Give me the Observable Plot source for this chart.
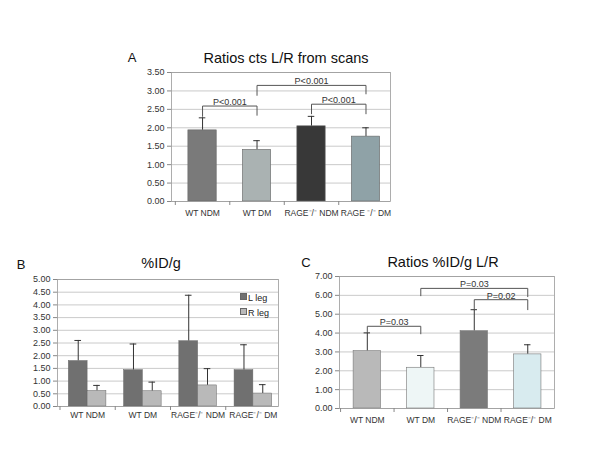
<!DOCTYPE html>
<html><head><meta charset="utf-8">
<script src="https://cdn.jsdelivr.net/npm/d3@7"></script>
<script src="https://cdn.jsdelivr.net/npm/@observablehq/plot@0.6"></script>
<style>
body{margin:0;background:#fff;font-family:"Liberation Sans",Arial,sans-serif;}
#wrap{position:relative;width:600px;height:450px;overflow:hidden;background:#fff;}
.pan{position:absolute;}
.lbl{position:absolute;transform:translate(-50%,-50%);white-space:nowrap;color:#111;line-height:1;}
.leg{position:absolute;font-size:9px;color:#222;line-height:1;white-space:nowrap;}
.leg span{display:inline-block;width:5px;height:5px;margin-right:1px;vertical-align:1px;border:0.5px solid #666;}
</style></head><body><div id="wrap"></div>
<script>
// ---- data ----
const categories = ["WT NDM", "WT DM", "RAGE\u207B/\u207B NDM", "RAGE\u207B/\u207B DM"];
const categoriesA = ["WT NDM", "WT DM", "RAGE\u207B/\u207B NDM", "RAGE \u207B/\u207B DM"];

// Panel A: Ratios cts L/R from scans
const scanRatio = [1.93, 1.40, 2.04, 1.76];
const scanRatioErrTop = [2.27, 1.65, 2.31, 2.00];
const colorsA = ["#7a7a7a", "#aab2b2", "#383838", "#8fa2a7"];
const yTicksA = [0, 0.5, 1, 1.5, 2, 2.5, 3, 3.5];
const bracketFromA = [0, 1, 2];
const bracketToA = [1, 3, 3];
const bracketYA = [2.59, 3.15, 2.64];
const bracketLeftEndA = [2.31, 2.88, 2.38];
const bracketRightEndA = [2.34, 2.92, 2.38];
const bracketTextA = ["P<0.001", "P<0.001", "P<0.001"];

// Panel B: %ID/g
const lLeg = [1.79, 1.43, 2.57, 1.43];
const lLegErrTop = [2.60, 2.46, 4.38, 2.43];
const rLeg = [0.61, 0.60, 0.83, 0.51];
const rLegErrTop = [0.83, 0.96, 1.49, 0.86];
const seriesB = ["L leg", "R leg"];
const colorsB = ["#707070", "#b9b9b9"];
const yTicksB = [0, 0.5, 1, 1.5, 2, 2.5, 3, 3.5, 4, 4.5, 5];

// Panel C: Ratios %ID/g L/R
const idRatio = [3.04, 2.16, 4.10, 2.87];
const idRatioErrTop = [4.01, 2.81, 5.24, 3.38];
const colorsC = ["#b9b9b9", "#eef6f6", "#7b7b7b", "#d8ebef"];
const yTicksC = [0, 1, 2, 3, 4, 5, 6, 7];
const bracketFromC = [0, 1, 2];
const bracketToC = [1, 3, 3];
const bracketYC = [4.36, 6.37, 5.77];
const bracketLeftEndC = [4.08, 5.98, 5.24];
const bracketRightEndC = [3.96, 5.93, 5.24];
const bracketTextC = ["P=0.03", "P=0.03", "P=0.02"];

// ---- helpers ----
const wrap = document.getElementById("wrap");
function place(el, left, top) {
  el.classList.add("pan");
  el.style.left = left + "px";
  el.style.top = top + "px";
  wrap.appendChild(el);
}
function label(text, x, y, size) {
  const d = document.createElement("div");
  d.className = "lbl";
  d.textContent = text;
  d.style.left = x + "px";
  d.style.top = y + "px";
  d.style.fontSize = size + "px";
  wrap.appendChild(d);
}
function bracketTable(from, to, y, yl, yr, text) {
  return from.map((f, k) => ({k, from: f, to: to[k], y: y[k], yl: yl[k], yr: yr[k], text: text[k]}));
}
function bracketMarks(br) {
  const pts = br.flatMap(b => [
    {k: b.k, x: b.from, y: b.yl},
    {k: b.k, x: b.from, y: b.y},
    {k: b.k, x: b.to, y: b.y},
    {k: b.k, x: b.to, y: b.yr}
  ]);
  return [
    Plot.line(pts, {x: "x", y: "y", z: "k", stroke: "#555", strokeWidth: 1, curve: "linear"}),
    Plot.text(br, {x: b => (b.from + b.to) / 2, y: "y", text: "text", lineAnchor: "bottom", dy: -1, fontSize: 9, fill: "#333"})
  ];
}
function frameMarks(yTicks, cats, padX, yFmt) {
  return {
    under: [
      Plot.gridY(yTicks, {stroke: "#bdbdbd", strokeOpacity: 1, strokeWidth: 0.8})
    ],
    over: [
      Plot.frame({stroke: "#9a9a9a", strokeWidth: 0.8}),
      Plot.axisY(yTicks, {tickFormat: yFmt, tickSize: 4, tickPadding: 3, stroke: "#888", fill: "#333", fontSize: 9, label: null}),
      Plot.axisX([-0.5, 0.5, 1.5, 2.5], {tickFormat: () => "", tickSize: 4, stroke: "#888", label: null}),
      Plot.axisX([0, 1, 2, 3], {tickFormat: i => cats[i], tickSize: 0, tickPadding: padX, fill: "#333", fontSize: 8.5, label: null})
    ]
  };
}
const fmt2 = d3.format(".2f");
const baseStyle = {fontFamily: "Liberation Sans, Arial, sans-serif", fontSize: "9px", background: "white", overflow: "visible"};

// ---- Panel A ----
{
  const hw = 0.26, cap = 0.06;
  const data = categoriesA.map((c, i) => ({i, value: scanRatio[i], err: scanRatioErrTop[i], color: colorsA[i]}));
  const f = frameMarks(yTicksA, categoriesA, 8, fmt2);
  const br = bracketTable(bracketFromA, bracketToA, bracketYA, bracketLeftEndA, bracketRightEndA, bracketTextA);
  const chart = Plot.plot({
    width: 285, height: 165,
    marginLeft: 61, marginRight: 5, marginTop: 12, marginBottom: 24,
    style: baseStyle,
    x: {type: "linear", domain: [-0.57, 3.45]},
    y: {domain: [0, 3.5]},
    color: {type: "identity"},
    marks: [
      ...f.under,
      Plot.ruleX(data, {x: "i", y1: "value", y2: "err", stroke: "#333", strokeWidth: 1}),
      Plot.ruleY(data, {y: "err", x1: d => d.i - cap, x2: d => d.i + cap, stroke: "#333", strokeWidth: 1}),
      Plot.rectY(data, {x1: d => d.i - hw, x2: d => d.i + hw, y: "value", fill: "color", stroke: "#666", strokeWidth: 0.6}),
      ...bracketMarks(br),
      ...f.over
    ]
  });
  place(chart, 110, 60);
  label("A", 132, 57, 13);
  label("Ratios cts L/R from scans", 286, 58, 14.5);
}

// ---- Panel B ----
{
  const bw = 0.34, cap = 0.06;
  const data = categories.flatMap((c, i) => [
    {i, s: 0, value: lLeg[i], err: lLegErrTop[i], color: colorsB[0]},
    {i, s: 1, value: rLeg[i], err: rLegErrTop[i], color: colorsB[1]}
  ]);
  const x1 = d => d.s === 0 ? d.i - bw : d.i;
  const x2 = d => d.s === 0 ? d.i : d.i + bw;
  const xc = d => d.s === 0 ? d.i - bw / 2 : d.i + bw / 2;
  const f = frameMarks(yTicksB, categories, 5, fmt2);
  const chart = Plot.plot({
    width: 290, height: 160,
    marginLeft: 57, marginRight: 12, marginTop: 9, marginBottom: 24,
    style: baseStyle,
    x: {type: "linear", domain: [-0.545, 3.455]},
    y: {domain: [0, 5]},
    color: {type: "identity"},
    marks: [
      ...f.under,
      Plot.ruleX(data, {x: xc, y1: "value", y2: "err", stroke: "#333", strokeWidth: 1}),
      Plot.ruleY(data, {y: "err", x1: d => xc(d) - cap, x2: d => xc(d) + cap, stroke: "#333", strokeWidth: 1}),
      Plot.rectY(data, {x1, x2, y: "value", fill: "color", stroke: "#666", strokeWidth: 0.5}),
      ...f.over
    ]
  });
  place(chart, 0, 270);
  label("B", 21, 264, 13);
  label("%ID/g", 161, 263, 14.5);
  seriesB.forEach((s, k) => {
    const d = document.createElement("div");
    d.className = "leg";
    d.innerHTML = `<span style="background:${colorsB[k]}"></span>${s}`;
    d.style.left = "240px";
    d.style.top = (293 + k * 15) + "px";
    wrap.appendChild(d);
  });
}

// ---- Panel C ----
{
  const hw = 0.256, cap = 0.06;
  const data = categories.map((c, i) => ({i, value: idRatio[i], err: idRatioErrTop[i], color: colorsC[i]}));
  const f = frameMarks(yTicksC, categories, 8, fmt2);
  const br = bracketTable(bracketFromC, bracketToC, bracketYC, bracketLeftEndC, bracketRightEndC, bracketTextC);
  const chart = Plot.plot({
    width: 270, height: 162,
    marginLeft: 39, marginRight: 16, marginTop: 10, marginBottom: 20,
    style: baseStyle,
    x: {type: "linear", domain: [-0.52, 3.5]},
    y: {domain: [0, 7]},
    color: {type: "identity"},
    marks: [
      ...f.under,
      Plot.ruleX(data, {x: "i", y1: "value", y2: "err", stroke: "#333", strokeWidth: 1}),
      Plot.ruleY(data, {y: "err", x1: d => d.i - cap, x2: d => d.i + cap, stroke: "#333", strokeWidth: 1}),
      Plot.rectY(data, {x1: d => d.i - hw, x2: d => d.i + hw, y: "value", fill: "color", stroke: "#777", strokeWidth: 0.6}),
      ...bracketMarks(br),
      ...f.over
    ]
  });
  place(chart, 300, 266);
  label("C", 306, 262, 13);
  label("Ratios %ID/g L/R", 443, 262, 14.5);
}
</script></body></html>
